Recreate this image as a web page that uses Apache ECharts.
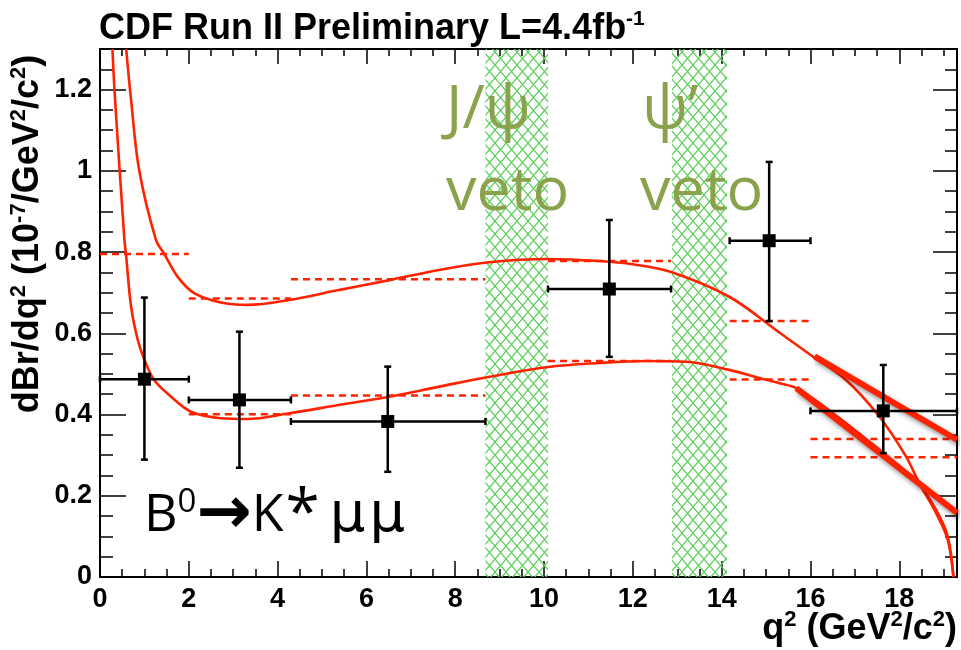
<!DOCTYPE html>
<html>
<head>
<meta charset="utf-8">
<script src="https://cdn.jsdelivr.net/npm/echarts@6/dist/echarts.min.js"></script>
<style>
  html, body { margin: 0; padding: 0; background: #fff; }
  #main { width: 961px; height: 650px; }
</style>
</head>
<body>
<div id="main"></div>
<script>
const X_MAX = 19.3
const Y_MAX = 1.3

// measured points, one entry per q2 bin
const binLow = [0, 2, 4.3, 10.09, 14.18, 16]
const binHigh = [2, 4.3, 8.68, 12.86, 16, 19.3]
const binCenter = [1.0, 3.14, 6.48, 11.47, 15.07, 17.64]
const measured = [0.487, 0.436, 0.383, 0.709, 0.828, 0.409]
const errLow = [0.289, 0.269, 0.259, 0.542, 0.630, 0.305]
const errHigh = [0.688, 0.604, 0.518, 0.879, 1.022, 0.522]

// theory curves
const upperCurve = [
  [0.59, 1.30], [0.70, 1.174], [0.885, 1.0], [1.26, 0.83], [1.45, 0.795], [1.75, 0.739],
  [2.12, 0.699], [2.72, 0.676], [3.32, 0.670], [4.26, 0.682], [5.4, 0.707], [6.52, 0.731],
  [7.64, 0.756], [8.77, 0.775], [10.09, 0.783], [11.25, 0.778], [12.0, 0.770], [12.86, 0.751],
  [14.17, 0.690], [15.3, 0.602], [16.05, 0.543], [16.8, 0.485], [17.55, 0.395], [18.15, 0.297],
  [18.45, 0.231], [18.83, 0.157], [19.09, 0.092], [19.22, 0.0]
]
const lowerCurve = [
  [0.28, 1.30], [0.34, 1.174], [0.55, 0.83], [0.585, 0.795], [0.70, 0.666], [0.85, 0.584],
  [1.0, 0.535], [1.22, 0.485], [1.6, 0.444], [2.05, 0.407], [2.72, 0.391], [3.3, 0.389],
  [4.26, 0.403], [5.4, 0.424], [6.52, 0.444], [7.7, 0.470], [8.77, 0.493], [10.09, 0.517],
  [11.25, 0.527], [12.3, 0.532], [13.2, 0.530], [14.17, 0.510], [14.85, 0.490], [15.3, 0.477],
  [15.68, 0.465], [16.2, 0.428], [17.18, 0.346], [17.93, 0.280], [18.45, 0.228], [18.83, 0.165],
  [19.09, 0.100], [19.22, 0.0]
]

// binned theory: [from, to, value]
const upperBinned = [[0, 2, 0.795], [2, 4.3, 0.686], [4.3, 8.68, 0.733], [10.09, 12.86, 0.778], [14.18, 16, 0.630], [16, 19.3, 0.340]]
const lowerBinned = [[2, 4.3, 0.401], [4.3, 8.68, 0.447], [10.09, 12.86, 0.532], [14.18, 16, 0.486], [16, 19.3, 0.295]]

// high q2 straight lines
const highLineA = [[16.09, 0.543], [19.3, 0.338]]
const highLineB = [[15.68, 0.465], [19.3, 0.158]]

const vetoBands = [[8.68, 10.09], [12.88, 14.12]]

const RED = '#ff2200'
const GREEN_TEXT = '#8aa24c'
const AXIS_FONT = 'Liberation Sans, Arial, Helvetica, sans-serif'

function makeHatch() {
  const c = document.createElement('canvas')
  c.width = 11
  c.height = 13
  const ctx = c.getContext('2d')
  ctx.strokeStyle = '#5ccf5c'
  ctx.lineWidth = 1.2
  ctx.beginPath()
  ctx.moveTo(0, 0); ctx.lineTo(11, 13)
  ctx.moveTo(11, 0); ctx.lineTo(0, 13)
  ctx.stroke()
  return c
}
const hatch = { image: makeHatch(), repeat: 'repeat' }

function tickAxis(dim, position, interval, length, extra) {
  const ax = {
    type: 'value', position, min: 0, max: dim === 'x' ? X_MAX : Y_MAX, interval,
    axisLine: { show: true, onZero: false, lineStyle: { color: '#000', width: 2 } },
    axisTick: { show: true, inside: true, length, lineStyle: { color: '#000', width: 1.5 } },
    axisLabel: { show: false },
    splitLine: { show: false }
  }
  return Object.assign(ax, extra || {})
}

const labelStyle = { show: true, fontSize: 27, fontWeight: 'bold', color: '#000', fontFamily: AXIS_FONT, showMaxLabel: false }

const xAxes = [
  tickAxis('x', 'bottom', 2, 16, { axisLabel: Object.assign({ margin: 9 }, labelStyle) }),
  tickAxis('x', 'bottom', 0.5, 8),
  tickAxis('x', 'top', 2, 15),
  tickAxis('x', 'top', 0.5, 7)
]
const yAxes = [
  tickAxis('y', 'left', 0.2, 26, { axisLabel: Object.assign({ margin: 8, formatter: v => String(Math.round(v * 10) / 10) }, labelStyle) }),
  tickAxis('y', 'left', 0.05, 13),
  tickAxis('y', 'right', 0.2, 24),
  tickAxis('y', 'right', 0.05, 12)
]

function segmentSeries(name, segs) {
  return {
    type: 'custom', name, z: 3,
    data: segs,
    renderItem: (params, api) => {
      const a = api.coord([api.value(0), api.value(2)])
      const b = api.coord([api.value(1), api.value(2)])
      return {
        type: 'line',
        shape: { x1: a[0], y1: a[1], x2: b[0], y2: b[1] },
        style: { stroke: RED, lineWidth: 2.5, lineDash: [7, 5] }
      }
    }
  }
}

function curveSeries(name, pts) {
  return {
    type: 'line', name, data: pts, smooth: 0.35, showSymbol: false, z: 4,
    lineStyle: { color: RED, width: 2.6 }
  }
}

function thickSeries(name, pts) {
  return {
    type: 'line', name, data: pts, showSymbol: false, z: 5,
    lineStyle: { color: RED, width: 6, shadowColor: 'rgba(0,0,0,0.45)', shadowBlur: 5, shadowOffsetX: 2, shadowOffsetY: 3 }
  }
}

const pointData = binCenter.map((c, i) => [c, measured[i], binLow[i], binHigh[i], errLow[i], errHigh[i]])

const chart = echarts.init(document.getElementById('main'))
chart.setOption({
  animation: false,
  backgroundColor: '#fff',
  grid: { left: 100, right: 4, top: 49, bottom: 73 },
  xAxis: xAxes,
  yAxis: yAxes,
  series: [
    {
      type: 'custom', name: 'veto', z: 1,
      data: vetoBands,
      renderItem: (params, api) => {
        const a = api.coord([api.value(0), Y_MAX])
        const b = api.coord([api.value(1), 0])
        return {
          type: 'rect',
          shape: { x: a[0], y: a[1], width: b[0] - a[0], height: b[1] - a[1] },
          style: { fill: hatch }
        }
      }
    },
    segmentSeries('upper binned', upperBinned),
    segmentSeries('lower binned', lowerBinned),
    curveSeries('upper', upperCurve),
    curveSeries('lower', lowerCurve),
    thickSeries('high A', highLineA),
    thickSeries('high B', highLineB),
    {
      type: 'custom', name: 'data', z: 10,
      data: pointData,
      renderItem: (params, api) => {
        const c = api.coord([api.value(0), api.value(1)])
        const l = api.coord([api.value(2), api.value(1)])
        const r = api.coord([api.value(3), api.value(1)])
        const lo = api.coord([api.value(0), api.value(4)])
        const hi = api.coord([api.value(0), api.value(5)])
        const st = { stroke: '#000', lineWidth: 2.5 }
        const cap = 3.5
        return {
          type: 'group',
          children: [
            { type: 'line', shape: { x1: l[0], y1: l[1], x2: r[0], y2: r[1] }, style: st },
            { type: 'line', shape: { x1: lo[0], y1: lo[1], x2: hi[0], y2: hi[1] }, style: st },
            { type: 'line', shape: { x1: l[0], y1: l[1] - cap, x2: l[0], y2: l[1] + cap }, style: st },
            { type: 'line', shape: { x1: r[0], y1: r[1] - cap, x2: r[0], y2: r[1] + cap }, style: st },
            { type: 'line', shape: { x1: lo[0] - cap, y1: lo[1], x2: lo[0] + cap, y2: lo[1] }, style: st },
            { type: 'line', shape: { x1: hi[0] - cap, y1: hi[1], x2: hi[0] + cap, y2: hi[1] }, style: st },
            { type: 'rect', shape: { x: c[0] - 6.5, y: c[1] - 6.5, width: 13, height: 13 }, style: { fill: '#000' } }
          ]
        }
      }
    }
  ],
  graphic: [
    {
      type: 'text', left: 99, top: 9, z: 20,
      style: {
        text: '{b|CDF Run II Preliminary L=4.4fb}{s|-1}',
        rich: {
          b: { fontSize: 36, fontWeight: 'bold', fontFamily: AXIS_FONT, fill: '#000', lineHeight: 40 },
          s: { fontSize: 21, fontWeight: 'bold', fontFamily: AXIS_FONT, fill: '#000', verticalAlign: 'top', lineHeight: 22 }
        }
      }
    },
    {
      type: 'text', x: 28, y: 234, rotation: Math.PI / 2, z: 20,
      style: {
        text: '{b|dBr/dq}{s|2}{b| (10}{s|-7}{b|/GeV}{s|2}{b|/c}{s|2}{b|)}',
        align: 'center', verticalAlign: 'middle',
        rich: {
          b: { fontSize: 36, fontWeight: 'bold', fontFamily: AXIS_FONT, fill: '#000', lineHeight: 40 },
          s: { fontSize: 22, fontWeight: 'bold', fontFamily: AXIS_FONT, fill: '#000', verticalAlign: 'top', lineHeight: 22 }
        }
      }
    },
    {
      type: 'text', x: 957, y: 629, z: 20,
      style: {
        text: '{b|q}{s|2}{b| (GeV}{s|2}{b|/c}{s|2}{b|)}',
        align: 'right', verticalAlign: 'middle',
        rich: {
          b: { fontSize: 36, fontWeight: 'bold', fontFamily: AXIS_FONT, fill: '#000', lineHeight: 40 },
          s: { fontSize: 22, fontWeight: 'bold', fontFamily: AXIS_FONT, fill: '#000', verticalAlign: 'top', lineHeight: 22 }
        }
      }
    },
    { type: 'text', x: 446, y: 111, z: 20, style: { text: 'J/ψ', fill: GREEN_TEXT, fontSize: 61, fontFamily: 'Open Sans', verticalAlign: 'middle' } },
    { type: 'text', x: 446, y: 193, z: 20, style: { text: 'veto', fill: GREEN_TEXT, fontSize: 61, fontFamily: 'Open Sans', verticalAlign: 'middle' } },
    { type: 'text', x: 642, y: 111, z: 20, style: { text: 'ψ’', fill: GREEN_TEXT, fontSize: 61, fontFamily: 'Open Sans', verticalAlign: 'middle' } },
    { type: 'text', x: 640, y: 193, z: 20, style: { text: 'veto', fill: GREEN_TEXT, fontSize: 61, fontFamily: 'Open Sans', verticalAlign: 'middle' } },
    {
      type: 'text', x: 144, y: 516, z: 20,
      style: {
        text: '{m|B}{s|0}{a|→}{m|K}{t|*}{u|μ}{u|μ}',
        verticalAlign: 'middle',
        rich: {
          m: { fontSize: 52, fontFamily: 'Open Sans', fill: '#000', lineHeight: 60 },
          s: { fontSize: 33, fontFamily: 'Open Sans', fill: '#000', verticalAlign: 'top', lineHeight: 36 },
          a: { fontSize: 66, fontWeight: 'bold', fontFamily: 'DejaVu Sans', fill: '#000', lineHeight: 60 },
          t: { fontSize: 62, fontFamily: 'Open Sans', fill: '#000', verticalAlign: 'bottom', lineHeight: 36, padding: [0, 10, 0, 2] },
          u: { fontSize: 56, fontFamily: 'DejaVu Sans', fill: '#000', lineHeight: 60, padding: [0, 4, 0, 0] }
        }
      }
    }
  ]
})
</script>
</body>
</html>
